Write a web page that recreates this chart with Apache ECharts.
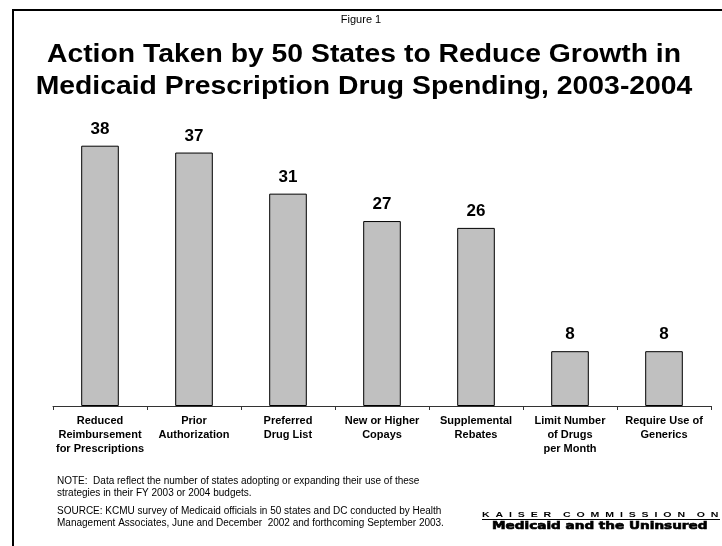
<!DOCTYPE html>
<html>
<head>
<meta charset="utf-8">
<script src="https://cdn.jsdelivr.net/npm/echarts@6/dist/echarts.min.js"></script>
<style>
html,body{margin:0;padding:0;background:#fff;}
#chart{width:722px;height:546px;}
</style>
</head>
<body>
<div id="chart"></div>
<script>
var categories = [
  "Reduced\nReimbursement\nfor Prescriptions",
  "Prior\nAuthorization",
  "Preferred\nDrug List",
  "New or Higher\nCopays",
  "Supplemental\nRebates",
  "Limit Number\nof Drugs\nper Month",
  "Require Use of\nGenerics"
];
var values = [38, 37, 31, 27, 26, 8, 8];
var titleLines = [
  "Action Taken by 50 States to Reduce Growth in",
  "Medicaid Prescription Drug Spending, 2003-2004"
];
var noteLines = [
  "NOTE:  Data reflect the number of states adopting or expanding their use of these",
  "strategies in their FY 2003 or 2004 budgets."
];
var sourceLines = [
  "SOURCE: KCMU survey of Medicaid officials in 50 states and DC conducted by Health",
  "Management Associates, June and December  2002 and forthcoming September 2003."
];

var chart = echarts.init(document.getElementById('chart'), null, {renderer: 'canvas'});
var FONT = 'Liberation Sans, Arial, sans-serif';
chart.setOption({
  backgroundColor: '#ffffff',
  animation: false,
  grid: {left: 53, right: 11, top: 132, bottom: 140, containLabel: false},
  xAxis: {
    type: 'category',
    data: categories,
    axisLine: {lineStyle: {color: '#333', width: 1}},
    axisTick: {show: true, length: 4, inside: false, lineStyle: {color: '#333'}},
    axisLabel: {interval: 0, margin: 8, fontFamily: FONT, fontSize: 11, fontWeight: 'bold', color: '#000', lineHeight: 14}
  },
  yAxis: {type: 'value', min: 0, max: 40, show: false, splitLine: {show: false}},
  series: [{
    type: 'bar',
    data: values,
    barWidth: '40%',
    itemStyle: {color: '#c0c0c0', borderColor: '#000', borderWidth: 1},
    label: {show: true, position: 'top', distance: 8, fontFamily: FONT, fontSize: 17, fontWeight: 'bold', color: '#000'}
  }],
  graphic: [
    {type: 'polyline', shape: {points: [[13, 560], [13, 10], [740, 10]]}, style: {stroke: '#000', lineWidth: 2, fill: null}},
    {type: 'text', x: 361, y: 14, style: {text: 'Figure 1', font: '11px ' + FONT, fill: '#000', textAlign: 'center'}},
    {type: 'text', x: 364, y: 39, scaleX: 1.09, style: {text: titleLines.join('\n'), font: 'bold 26px ' + FONT, fill: '#000', textAlign: 'center', lineHeight: 32}},
    {type: 'text', left: 57, top: 475, style: {text: noteLines.join('\n'), font: '10px ' + FONT, fill: '#000', lineHeight: 12}},
    {type: 'text', left: 57, top: 505, style: {text: sourceLines.join('\n'), font: '10px ' + FONT, fill: '#000', lineHeight: 12}},
    {type: 'text', x: 482, y: 511, scaleX: 1.32, style: {text: 'K  A  I  S  E  R    C  O  M  M  I  S  S  I  O  N    O  N', font: 'bold 8px ' + FONT, fill: '#000'}},
    {type: 'line', shape: {x1: 482, y1: 519.5, x2: 720, y2: 519.5}, style: {stroke: '#000', lineWidth: 1}},
    {type: 'text', x: 492, y: 521, scaleX: 1.36, style: {text: 'Medicaid and the Uninsured', font: 'bold 10px DejaVu Sans, sans-serif', fill: '#000', stroke: '#000', lineWidth: 0.6}}
  ]
});
</script>
</body>
</html>
